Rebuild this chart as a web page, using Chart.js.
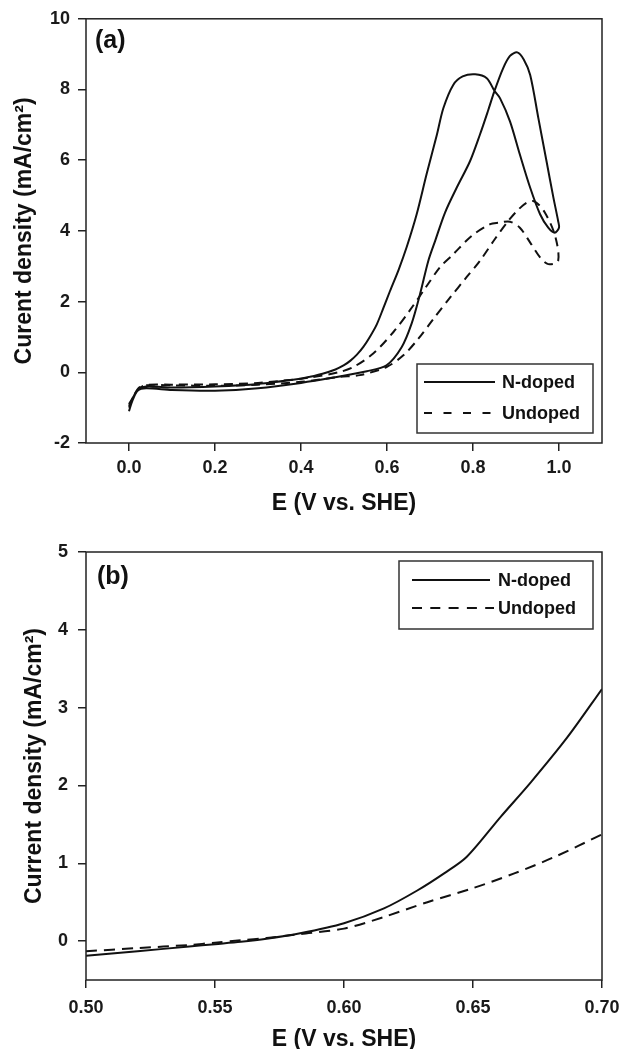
<!DOCTYPE html>
<html>
<head>
<meta charset="utf-8">
<script src="https://cdn.jsdelivr.net/npm/chart.js@4.4.1/dist/chart.umd.min.js"></script>
<style>
  html, body { margin: 0; padding: 0; background: #fff; overflow: hidden; }
  #top { position: absolute; left: 0; top: 0; }
  #bot { position: absolute; left: 0; top: 525px; }
</style>
</head>
<body>
<canvas id="top" width="621" height="525"></canvas>
<canvas id="bot" width="621" height="530"></canvas>
<script>
/* === Data: panel (a), full CV loops === */
const nDopedE = [0, 0.008, 0.02, 0.04, 0.1, 0.2, 0.3, 0.4, 0.475, 0.553, 0.599, 0.634, 0.657, 0.677, 0.696, 0.712,
  0.735, 0.762, 0.793, 0.816, 0.835, 0.85, 0.87, 0.886, 0.903, 0.918, 0.933, 0.952, 0.971, 0.987, 0.998, 1.0,
  0.99, 0.975, 0.956, 0.933, 0.909, 0.886, 0.863, 0.85, 0.832, 0.805, 0.776, 0.754, 0.731, 0.716, 0.692, 0.669,
  0.646, 0.627, 0.607, 0.591, 0.576, 0.56, 0.545, 0.53, 0.515, 0.5, 0.48, 0.45, 0.42, 0.4, 0.3, 0.2, 0.1, 0.04, 0.02, 0.006, 0];
const nDopedJ = [-1.1, -0.8, -0.52, -0.45, -0.5, -0.52, -0.45, -0.3, -0.15, 0.03, 0.2, 0.71, 1.37, 2.22, 3.15, 3.72,
  4.52, 5.22, 5.97, 6.72, 7.4, 7.96, 8.6, 8.95, 9.05, 8.85, 8.41, 7.19, 5.97, 4.94, 4.28, 4.09,
  3.95, 4.09, 4.47, 5.22, 6.16, 7.1, 7.75, 7.96, 8.32, 8.43, 8.37, 8.13, 7.47, 6.72, 5.6, 4.47,
  3.55, 2.9, 2.3, 1.8, 1.35, 1.0, 0.72, 0.5, 0.33, 0.2, 0.08, -0.04, -0.13, -0.18, -0.33, -0.4, -0.43, -0.4, -0.5, -0.8, -0.95];

const undopedE = [0, 0.01, 0.025, 0.05, 0.1, 0.2, 0.3, 0.4, 0.49, 0.537, 0.599, 0.638, 0.673, 0.708, 0.747, 0.785,
  0.816, 0.851, 0.882, 0.902, 0.925, 0.944, 0.967, 0.991, 0.998,
  0.975, 0.956, 0.933, 0.909, 0.886, 0.859, 0.84, 0.797, 0.754, 0.723, 0.69, 0.653, 0.615, 0.568, 0.522, 0.49,
  0.42, 0.3, 0.2, 0.1, 0.04, 0.02, 0.005, 0];
const undopedJ = [-1.0, -0.7, -0.42, -0.36, -0.37, -0.38, -0.35, -0.27, -0.13, -0.08, 0.15, 0.48, 0.95, 1.51, 2.12, 2.69,
  3.15, 3.77, 4.28, 4.56, 4.8, 4.83, 4.52, 3.86, 3.15,
  3.06, 3.25, 3.67, 4.09, 4.26, 4.23, 4.19, 3.86, 3.34, 2.97, 2.4, 1.75, 1.14, 0.53, 0.15, 0.01,
  -0.15, -0.3, -0.34, -0.35, -0.36, -0.5, -0.8, -0.9];

/* === Data: panel (b), onset region of forward scan === */
const nZoomE = [0.50, 0.52, 0.54, 0.55, 0.56, 0.57, 0.583, 0.60, 0.6155, 0.6284, 0.6388, 0.6475, 0.6608, 0.6724, 0.6866, 0.70];
const nZoomJ = [-0.19, -0.13, -0.07, -0.04, -0.01, 0.03, 0.1, 0.23, 0.42, 0.65, 0.87, 1.08, 1.6, 2.04, 2.62, 3.24];
const uZoomE = [0.50, 0.52, 0.54, 0.55, 0.56, 0.57, 0.583, 0.60, 0.6155, 0.6323, 0.65, 0.666, 0.6815, 0.70];
const uZoomJ = [-0.13, -0.09, -0.05, -0.02, 0.01, 0.04, 0.09, 0.16, 0.31, 0.50, 0.68, 0.87, 1.08, 1.37];

/* === Ticks === */
const topXTicks  = [0, 0.2, 0.4, 0.6, 0.8, 1.0];
const topXLabels = ['0.0', '0.2', '0.4', '0.6', '0.8', '1.0'];
const topYTicks  = [-2, 0, 2, 4, 6, 8, 10];
const topYLabels = ['-2', '0', '2', '4', '6', '8', '10'];
const botXTicks  = [0.50, 0.55, 0.60, 0.65, 0.70];
const botXLabels = ['0.50', '0.55', '0.60', '0.65', '0.70'];
const botYTicks  = [0, 1, 2, 3, 4, 5];
const botYLabels = ['0', '1', '2', '3', '4', '5'];

const seriesNames = ['N-doped', 'Undoped'];

/* === Helpers === */
const FONT = '"Liberation Sans", Arial, Helvetica, sans-serif';
Chart.defaults.font.family = FONT;
Chart.defaults.color = '#1a1a1a';

const pts = (xs, ys) => xs.map((x, i) => ({ x: x, y: ys[i] }));

function lineSet(label, data, dash, legendDash) {
  return {
    label: label,
    data: data,
    showLine: true,
    borderColor: '#111',
    borderWidth: 2,
    borderDash: dash,
    legendDash: legendDash,
    pointRadius: 0,
    tension: 0.3,
    fill: false
  };
}

function axis(ticks, labels, opts) {
  return {
    type: 'linear',
    min: opts.min,
    max: opts.max,
    afterBuildTicks: s => { s.ticks = ticks.map(v => ({ value: v })); },
    afterFit: s => {
      if (opts.width) s.width = opts.width;
      if (opts.height) {
        s.height = opts.height;
        s.paddingLeft = 0;
        s.paddingRight = 0;
      }
    },
    grid: { display: true, drawOnChartArea: false, drawTicks: true, tickLength: 8, color: '#222', lineWidth: 1.5 },
    border: { display: false },
    ticks: {
      autoSkip: false,
      maxRotation: 0,
      padding: opts.pad,
      color: '#1a1a1a',
      font: { size: 18, weight: 'bold' },
      callback: (v, i) => labels[i]
    },
    title: {
      display: true,
      text: opts.title,
      color: '#111',
      font: { size: 23, weight: 'bold' },
      padding: opts.titlePad
    }
  };
}

/* === Frame, panel tag, in-plot legend === */
const decor = {
  id: 'decor',
  afterDraw(chart, args, o) {
    const { ctx, chartArea: a } = chart;
    ctx.save();
    ctx.strokeStyle = '#222';
    ctx.lineWidth = 1.5;
    ctx.strokeRect(a.left, a.top, a.right - a.left, a.bottom - a.top);

    ctx.fillStyle = '#111';
    ctx.font = 'bold 25px ' + FONT;
    ctx.textBaseline = 'alphabetic';
    ctx.fillText(o.tag, o.tagX, o.tagY);

    const b = o.box;
    ctx.fillStyle = '#fff';
    ctx.fillRect(b.x, b.y, b.w, b.h);
    ctx.strokeStyle = '#333';
    ctx.lineWidth = 1.5;
    ctx.strokeRect(b.x, b.y, b.w, b.h);

    ctx.font = 'bold 18px ' + FONT;
    ctx.textBaseline = 'middle';
    chart.data.datasets.forEach((ds, i) => {
      const y = b.rows[i];
      ctx.strokeStyle = ds.borderColor;
      ctx.lineWidth = 2;
      ctx.setLineDash(ds.legendDash);
      ctx.beginPath();
      ctx.moveTo(b.lx0, y);
      ctx.lineTo(b.lx1[i], y);
      ctx.stroke();
      ctx.setLineDash([]);
      ctx.fillStyle = '#111';
      ctx.fillText(ds.label, b.tx, y + 1);
    });
    ctx.restore();
  }
};

/* === Panel (a) === */
new Chart(document.getElementById('top'), {
  type: 'scatter',
  data: {
    datasets: [
      lineSet(seriesNames[0], pts(nDopedE, nDopedJ), [], []),
      lineSet(seriesNames[1], pts(undopedE, undopedJ), [9, 6], [8, 11.5])
    ]
  },
  options: {
    responsive: false,
    animation: false,
    layout: { padding: { top: 17, right: 19, left: 0, bottom: 0 } },
    plugins: {
      legend: { display: false },
      tooltip: { enabled: false },
      decor: {
        tag: '(a)', tagX: 95, tagY: 48,
        box: { x: 417, y: 364, w: 176, h: 69, rows: [382, 413], lx0: 424, lx1: [495, 491], tx: 502 }
      }
    },
    scales: {
      x: axis(topXTicks, topXLabels, { min: -0.1, max: 1.1, height: 82, pad: 6,
        title: 'E (V vs. SHE)', titlePad: { top: 0, bottom: 8 } }),
      y: axis(topYTicks, topYLabels, { min: -2, max: 10, width: 86, pad: 8,
        title: 'Curent density (mA/cm²)', titlePad: { top: 11, bottom: 0 } })
    }
  },
  plugins: [decor]
});

/* === Panel (b) === */
new Chart(document.getElementById('bot'), {
  type: 'scatter',
  data: {
    datasets: [
      lineSet(seriesNames[0], pts(nZoomE, nZoomJ), [], []),
      lineSet(seriesNames[1], pts(uZoomE, uZoomJ), [11, 7], [10, 8.3])
    ]
  },
  options: {
    responsive: false,
    animation: false,
    layout: { padding: { top: 27, right: 19, left: 0, bottom: 0 } },
    plugins: {
      legend: { display: false },
      tooltip: { enabled: false },
      decor: {
        tag: '(b)', tagX: 97, tagY: 59,
        box: { x: 399, y: 36, w: 194, h: 68, rows: [55, 83], lx0: 412, lx1: [490, 494], tx: 498 }
      }
    },
    scales: {
      x: axis(botXTicks, botXLabels, { min: 0.5, max: 0.7, height: 75, pad: 9,
        title: 'E (V vs. SHE)', titlePad: { top: 0, bottom: 2 } }),
      y: axis(botYTicks, botYLabels, { min: -0.5, max: 5, width: 86, pad: 10,
        title: 'Current density (mA/cm²)', titlePad: { top: 21, bottom: 0 } })
    }
  },
  plugins: [decor]
});
</script>
</body>
</html>
